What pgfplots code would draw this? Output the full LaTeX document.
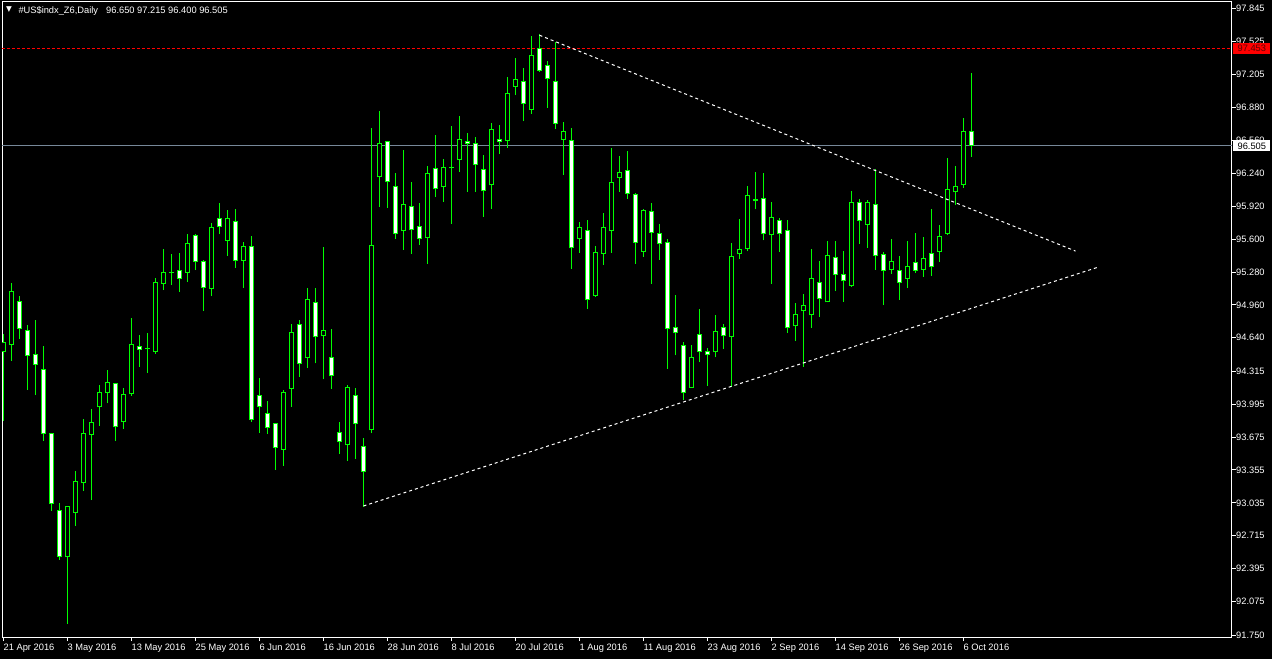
\documentclass[border=0pt]{standalone}
\usepackage{fontspec}
\setmainfont{Liberation Sans}
\newfontfamily\symfont{DejaVu Sans}
\usepackage{pgfplots}
\usepackage{pgfplotstable}
\pgfplotsset{compat=1.18}
\definecolor{mtgreen}{RGB}{0,255,0}
\definecolor{bidgray}{RGB}{119,136,153}
\newcommand{\tickfont}{\fontsize{9.3}{11}\selectfont}

\pgfplotstableread{
k o h l c
0 94.498 94.676 93.833 94.595
1 94.572 95.169 94.416 95.091
2 94.994 95.045 94.630 94.728
3 94.712 94.764 94.132 94.465
4 94.479 94.812 94.083 94.378
5 94.333 94.559 93.636 93.707
6 93.711 93.711 92.958 93.026
7 92.962 93.030 92.479 92.511
8 92.505 93.001 91.857 93.001
9 92.939 93.344 92.810 93.244
10 93.225 93.850 93.153 93.711
11 93.697 93.947 93.062 93.818
12 93.963 94.177 93.785 94.109
13 94.100 94.326 94.002 94.207
14 94.197 94.197 93.639 93.769
15 93.818 94.148 93.755 94.090
16 94.090 94.832 94.076 94.576
17 94.556 94.666 94.358 94.518
18 94.538 94.683 94.300 94.528
19 94.504 95.217 94.484 95.179
20 95.165 95.499 95.104 95.276
21 95.271 95.454 95.152 95.281
22 95.295 95.461 95.087 95.214
23 95.272 95.648 95.181 95.558
24 95.635 95.651 95.298 95.379
25 95.386 95.395 94.903 95.126
26 95.116 95.758 95.045 95.713
27 95.801 95.946 95.648 95.719
28 95.583 95.881 95.437 95.801
29 95.772 95.891 95.321 95.389
30 95.389 95.570 95.126 95.529
31 95.529 95.629 93.823 93.843
32 94.080 94.248 93.717 93.969
33 93.905 94.025 93.707 93.765
34 93.808 93.808 93.354 93.571
35 93.551 94.132 93.393 94.109
36 94.144 94.773 93.969 94.693
37 94.770 94.812 94.261 94.381
38 94.440 95.123 94.348 95.013
39 94.984 95.123 94.391 94.644
40 94.654 95.522 94.236 94.712
41 94.450 94.725 94.144 94.265
42 93.720 93.821 93.512 93.623
43 93.594 94.180 93.444 94.158
44 94.080 94.154 93.464 93.798
45 93.584 93.665 92.997 93.332
46 93.740 96.679 93.711 95.538
47 96.199 96.844 95.914 96.530
48 96.549 96.549 95.904 96.151
49 96.115 96.241 95.602 95.645
50 95.674 96.465 95.496 95.937
51 95.917 96.154 95.457 95.684
52 95.723 95.949 95.544 95.597
53 95.606 96.309 95.359 96.238
54 96.287 96.611 96.011 96.083
55 96.102 96.377 95.962 96.297
56 96.300 96.698 95.748 96.287
57 96.365 96.795 96.254 96.569
58 96.549 96.630 96.059 96.520
59 96.530 96.591 96.059 96.316
60 96.277 96.416 95.816 96.063
61 96.121 96.727 95.894 96.666
62 96.569 96.708 96.429 96.540
63 96.555 97.174 96.487 97.016
64 97.080 97.359 96.999 97.152
65 97.132 97.262 96.747 96.915
66 96.856 97.573 96.818 97.385
67 97.453 97.592 97.226 97.236
68 97.288 97.330 96.876 97.152
69 97.132 97.515 96.672 96.720
70 96.565 96.734 96.225 96.646
71 96.559 96.679 95.311 95.509
72 95.602 95.762 95.466 95.713
73 95.684 95.781 94.922 95.004
74 95.048 95.529 95.039 95.470
75 95.457 95.849 95.350 95.713
76 95.680 96.484 95.466 96.151
77 96.195 96.403 96.059 96.248
78 96.267 96.452 95.991 96.034
79 96.034 96.044 95.359 95.564
80 95.476 95.888 95.427 95.879
81 95.869 95.946 95.165 95.661
82 95.655 95.742 95.398 95.548
83 95.567 95.597 94.339 94.728
84 94.741 95.052 94.469 94.683
85 94.566 94.595 94.034 94.100
86 94.154 94.566 94.154 94.450
87 94.673 94.916 94.401 94.498
88 94.508 94.537 94.173 94.469
89 94.498 94.858 94.450 94.702
90 94.741 94.770 94.533 94.654
91 94.644 95.558 94.164 95.431
92 95.451 95.791 95.408 95.499
93 95.499 96.112 95.480 96.024
94 95.985 96.248 95.888 95.966
95 95.995 96.238 95.587 95.645
96 95.635 95.956 95.165 95.816
97 95.781 95.801 95.476 95.645
98 95.690 95.781 94.689 94.731
99 94.751 94.974 94.611 94.868
100 94.897 95.062 94.358 94.955
101 94.858 95.499 94.737 95.217
102 95.179 95.383 94.844 95.013
103 94.984 95.577 94.984 95.447
104 95.427 95.577 95.097 95.247
105 95.256 95.480 94.990 95.188
106 95.146 96.063 95.136 95.956
107 95.956 95.985 95.554 95.777
108 95.738 95.976 95.515 95.956
109 95.937 96.277 95.301 95.437
110 95.451 95.476 94.958 95.291
111 95.301 95.597 95.262 95.383
112 95.295 95.431 95.009 95.175
113 95.214 95.577 95.126 95.334
114 95.373 95.655 95.272 95.291
115 95.301 95.616 95.233 95.412
116 95.461 95.888 95.243 95.330
117 95.476 95.733 95.379 95.626
118 95.651 96.384 95.641 96.083
119 96.053 96.306 95.927 96.112
120 96.121 96.773 96.098 96.650
121 96.650 97.215 96.400 96.505
}\candles

\begin{document}
\begin{tikzpicture}
\fill[black] (-2pt,-22pt) rectangle (1270pt,637pt);
\begin{axis}[
  at={(0pt,0pt)}, anchor=south west,
  scale only axis, width=1230pt, height=635pt,
  xmin=-0.1875, xmax=153.5625, ymin=91.73, ymax=97.905,
  axis background/.style={fill=black},
  axis line style={white, line width=1pt},
  tick align=outside, major tick length=4pt,
  tick style={white, line width=0.8pt},
  xtick pos=left, ytick pos=right, yticklabel pos=right,
  xtick={0,8,...,120},
  xticklabels={21 Apr 2016,3 May 2016,13 May 2016,25 May 2016,6 Jun 2016,16 Jun 2016,28 Jun 2016,8 Jul 2016,20 Jul 2016,1 Aug 2016,11 Aug 2016,23 Aug 2016,2 Sep 2016,14 Sep 2016,26 Sep 2016,6 Oct 2016},
  ytick={97.845,97.525,97.205,96.880,96.560,96.240,95.920,95.600,95.280,94.960,94.640,94.315,93.995,93.675,93.355,93.035,92.715,92.395,92.075,91.750},
  yticklabels={97.845,97.525,97.205,96.880,96.560,96.240,95.920,95.600,95.280,94.960,94.640,94.315,93.995,93.675,93.355,93.035,92.715,92.395,92.075,91.750},
  tick label style={font=\tickfont, text=white},
  xticklabel style={anchor=north west, inner sep=0pt, yshift=-3pt},
  yticklabel style={anchor=west, inner sep=0pt},
  /pgf/number format/assume math mode=true,
]
% horizontal lines
\addplot[red, line width=1pt, dash pattern=on 3pt off 2pt] coordinates {(-0.1875,97.453) (153.5625,97.453)};
\addplot[bidgray, line width=1pt] coordinates {(-0.1875,96.505) (153.5625,96.505)};
% wicks (low to high)
\addplot[mtgreen, line width=1pt, quiver={u=0, v={\thisrow{h}-\thisrow{l}}}] table[x=k, y=l] {\candles};
% body outlines (open to close)
\addplot[mtgreen, line width=5pt, quiver={u=0, v={abs(\thisrow{c}-\thisrow{o})}}] table[x=k, y expr={min(\thisrow{o},\thisrow{c})}] {\candles};
% bull bodies (black)
\addplot[black, line width=3pt, quiver={u=0, v={max(abs(\thisrow{c}-\thisrow{o})-0.0194,0)}},
  x filter/.expression={\thisrow{c}>\thisrow{o} ? x : nan}] table[x=k, y expr={min(\thisrow{o},\thisrow{c})+0.0097}] {\candles};
% bear bodies (white)
\addplot[white, line width=3pt, quiver={u=0, v={max(abs(\thisrow{c}-\thisrow{o})-0.0194,0)}},
  x filter/.expression={\thisrow{c}<\thisrow{o} ? x : nan}] table[x=k, y expr={min(\thisrow{o},\thisrow{c})+0.0097}] {\candles};
% trend lines
\addplot[white, line width=1pt, dash pattern=on 3pt off 3pt] coordinates {(67,97.582) (134,95.483)};
\addplot[white, line width=1pt, dash pattern=on 3pt off 3pt] coordinates {(45,93.004) (136.85,95.327)};
\coordinate (rl) at (axis cs:153.5625,97.453);
\coordinate (bl) at (axis cs:153.5625,96.505);
\end{axis}
\node[fill=red, anchor=west, minimum width=36.7pt, minimum height=11pt, inner sep=0pt, text={rgb,255:red,90;green,0;blue,0}, font=\tickfont] at ([xshift=1.3pt]rl) {97.453};
\node[fill=white, anchor=west, minimum width=36.7pt, minimum height=11pt, inner sep=0pt, text=black, font=\tickfont] at ([xshift=1.3pt]bl) {96.505};
\node[anchor=west, inner sep=0pt, text=white, font=\symfont\fontsize{7.5}{9}\selectfont] at (4pt,627pt) {▼};
\node[anchor=base west, inner sep=0pt, text=white, font=\tickfont] at (16.3pt,623.8pt) {\#US\$indx\_Z6,Daily};
\node[anchor=base west, inner sep=0pt, text=white, font=\tickfont] at (104pt,623.8pt) {96.650 97.215 96.400 96.505};
\end{tikzpicture}
\end{document}
